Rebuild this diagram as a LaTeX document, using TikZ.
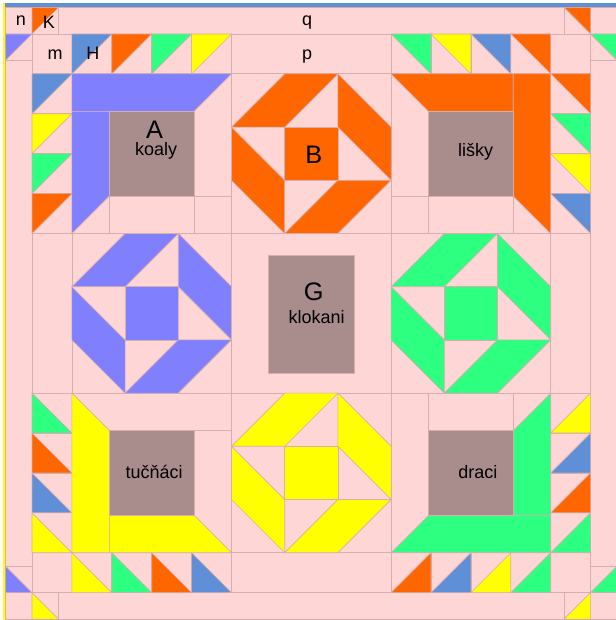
\documentclass[tikz,border=0pt]{standalone}
\usepackage{fontspec}
\setmainfont{Liberation Sans}
\definecolor{pinkC}{HTML}{FFD6D6}
\definecolor{lineC}{HTML}{D6AEAE}
\definecolor{periC}{HTML}{8080FF}
\definecolor{steelC}{HTML}{5F8FD6}
\definecolor{orangeC}{HTML}{FF6600}
\definecolor{greenC}{HTML}{2DFF80}
\definecolor{yellowC}{HTML}{FFFF00}
\definecolor{grayC}{HTML}{A98C8C}
\def\qu{39.9}
\def\qs{159.6}
\def\qa{37.5}
\tikzset{
  gl/.style={draw=lineC, line width=0.6pt},
  pc/.style={fill=#1, draw=lineC, line width=0.5pt},
  big/.style={font=\fontsize{19}{22}\selectfont, anchor=base, inner sep=0pt},
  sm/.style={font=\fontsize{13.5}{16}\selectfont, anchor=base, inner sep=0pt}
}
\newcommand{\octo}[3]{%
  \begin{scope}[shift={(#1,#2)}]
    \filldraw[pc=#3] (53.2,53.2) rectangle (106.4,106.4);
    \filldraw[pc=#3] (0,53.2) -- (53.2,0) -- (106.4,0) -- (53.2,53.2) -- cycle;
    \filldraw[pc=#3] (106.4,0) -- (159.6,53.2) -- (159.6,106.4) -- (106.4,53.2) -- cycle;
    \filldraw[pc=#3] (159.6,106.4) -- (106.4,159.6) -- (53.2,159.6) -- (106.4,106.4) -- cycle;
    \filldraw[pc=#3] (53.2,159.6) -- (0,106.4) -- (0,53.2) -- (53.2,106.4) -- cycle;
  \end{scope}}
\begin{document}
\begin{tikzpicture}[x=0.75pt,y=-0.75pt]
\useasboundingbox (0,0) rectangle (616,620);
\fill[white] (0,0) rectangle (616,620);
\fill[pinkC] (5.3,7.4) rectangle (617.2,620);
% outer border cells
\foreach \x/\w in {5.3/26.7, 32/26.6, 58.6/505.4, 564/26.6, 590.6/26.6} {
  \draw[gl] (\x,7.4) rectangle ++(\w,26.6);
  \draw[gl] (\x,592.6) rectangle ++(\w,26.6);
}
\foreach \y/\h in {34/26.6, 60.6/505.4, 566/26.6} {
  \draw[gl] (5.3,\y) rectangle ++(26.7,\h);
  \draw[gl] (590.6,\y) rectangle ++(26.6,\h);
}
\filldraw[pc=orangeC] (32,7.4) -- ++(26.6,0) -- ++(-26.6,26.6) -- cycle;
\filldraw[pc=orangeC] (564,7.4) -- ++(26.6,0) -- ++(0,26.6) -- cycle;
\filldraw[pc=periC] (5.3,34) -- ++(26.7,0) -- ++(-26.7,26.6) -- cycle;
\filldraw[pc=periC] (5.3,566) -- ++(0,26.6) -- ++(26.7,0) -- cycle;
\filldraw[pc=greenC] (590.6,34) -- ++(26.6,0) -- ++(0,26.6) -- cycle;
\filldraw[pc=greenC] (617.2,566) -- ++(0,26.6) -- ++(-26.6,0) -- cycle;
\filldraw[pc=yellowC] (32,592.6) -- ++(0,26.6) -- ++(26.6,0) -- cycle;
\filldraw[pc=yellowC] (590.6,592.6) -- ++(0,26.6) -- ++(-26.6,0) -- cycle;
% inner grid cells
\foreach \c in {0,1,2,3,4,9,10,11,12,13} {
  \draw[gl] ({32+\c*\qu},34) rectangle ++(\qu,\qu);
  \draw[gl] ({32+\c*\qu},552.7) rectangle ++(\qu,\qu);
}
\foreach \r in {1,2,3,4,9,10,11,12} {
  \draw[gl] (32,{34+\r*\qu}) rectangle ++(\qu,\qu);
  \draw[gl] (550.7,{34+\r*\qu}) rectangle ++(\qu,\qu);
}
\draw[gl] (231.5,34) rectangle ++(\qs,\qu);
\draw[gl] (231.5,552.7) rectangle ++(\qs,\qu);
\draw[gl] (32,233.5) rectangle ++(\qu,\qs);
\draw[gl] (550.7,233.5) rectangle ++(\qu,\qs);
\foreach \c in {71.9,231.5,391.1} \foreach \r in {73.9,233.5,393.1} {
  \draw[gl] (\c,\r) rectangle ++(\qs,\qs);
}
% small triangles
\foreach \c/\r/\col in {1/0/steelC,2/0/orangeC,3/0/greenC,4/0/yellowC,0/1/steelC,0/2/yellowC,0/3/greenC,0/4/orangeC}
  \filldraw[pc=\col] ({32+\c*\qu},{34+\r*\qu}) -- ++(\qu,0) -- ++(-\qu,\qu) -- cycle;
\foreach \c/\r/\col in {9/0/greenC,10/0/yellowC,11/0/steelC,12/0/orangeC,13/1/orangeC,13/2/greenC,13/3/yellowC,13/4/steelC}
  \filldraw[pc=\col] ({32+\c*\qu},{34+\r*\qu}) -- ++(\qu,0) -- ++(0,\qu) -- cycle;
\foreach \c/\r/\col in {0/9/greenC,0/10/orangeC,0/11/steelC,0/12/yellowC,1/13/yellowC,2/13/greenC,3/13/orangeC,4/13/steelC}
  \filldraw[pc=\col] ({32+\c*\qu},{34+\r*\qu}) -- ++(0,\qu) -- ++(\qu,0) -- cycle;
\foreach \c/\r/\col in {9/13/orangeC,10/13/steelC,11/13/yellowC,12/13/greenC,13/9/yellowC,13/10/steelC,13/11/orangeC,13/12/greenC}
  \filldraw[pc=\col] ({32+(\c+1)*\qu},{34+\r*\qu}) -- ++(0,\qu) -- ++(-\qu,0) -- cycle;
% block A (koaly)
\begin{scope}[shift={(71.9,73.9)}]
  \draw[gl] ({\qs-\qa},\qa) -- ({\qs-\qa},\qs);
  \draw[gl] (\qa,{\qs-\qa}) -- (\qs,{\qs-\qa});
  \draw[gl] (\qa,\qa) -- (\qa,\qs);
  \filldraw[pc=periC] (0,0) -- (\qs,0) -- ({\qs-\qa},\qa) -- (0,\qa) -- cycle;
  \filldraw[pc=periC] (0,\qa) -- (\qa,\qa) -- (\qa,{\qs-\qa}) -- (0,\qs) -- cycle;
  \filldraw[pc=grayC] (\qa,\qa) rectangle ({\qs-\qa},{\qs-\qa});
\end{scope}
% block lisky
\begin{scope}[shift={(391.1,73.9)}]
  \draw[gl] (\qa,\qa) -- (\qa,\qs);
  \draw[gl] (0,{\qs-\qa}) -- ({\qs-\qa},{\qs-\qa});
  \draw[gl] ({\qs-\qa},\qa) -- ({\qs-\qa},\qs);
  \filldraw[pc=orangeC] (0,0) -- ({\qs-\qa},0) -- ({\qs-\qa},\qa) -- (\qa,\qa) -- cycle;
  \filldraw[pc=orangeC] ({\qs-\qa},0) -- (\qs,0) -- (\qs,\qs) -- ({\qs-\qa},{\qs-\qa}) -- cycle;
  \filldraw[pc=grayC] (\qa,\qa) rectangle ({\qs-\qa},{\qs-\qa});
\end{scope}
% block tucnaci
\begin{scope}[shift={(71.9,393.1)}]
  \draw[gl] (\qa,\qa) -- (\qs,\qa);
  \draw[gl] ({\qs-\qa},\qa) -- ({\qs-\qa},{\qs-\qa});
  \filldraw[pc=yellowC] (0,0) -- (\qa,\qa) -- (\qa,\qs) -- (0,\qs) -- cycle;
  \filldraw[pc=yellowC] (\qa,{\qs-\qa}) -- ({\qs-\qa},{\qs-\qa}) -- (\qs,\qs) -- (\qa,\qs) -- cycle;
  \filldraw[pc=grayC] (\qa,\qa) rectangle ({\qs-\qa},{\qs-\qa});
\end{scope}
% block draci
\begin{scope}[shift={(391.1,393.1)}]
  \draw[gl] (\qa,0) -- (\qa,{\qs-\qa});
  \draw[gl] (\qa,\qa) -- ({\qs-\qa},\qa);
  \draw[gl] ({\qs-\qa},0) -- ({\qs-\qa},\qa);
  \filldraw[pc=greenC] ({\qs-\qa},\qa) -- (\qs,0) -- (\qs,{\qs-\qa}) -- ({\qs-\qa},{\qs-\qa}) -- cycle;
  \filldraw[pc=greenC] (0,\qs) -- (\qa,{\qs-\qa}) -- (\qs,{\qs-\qa}) -- (\qs,\qs) -- cycle;
  \filldraw[pc=grayC] (\qa,\qa) rectangle ({\qs-\qa},{\qs-\qa});
\end{scope}
% octagon blocks
\octo{231.5}{73.9}{orangeC}
\octo{71.9}{233.5}{periC}
\octo{391.1}{233.5}{greenC}
\octo{231.5}{393.1}{yellowC}
% center block
\filldraw[pc=grayC] (268,255) rectangle (354,373);
% frame lines
\fill[steelC] (5.3,3.3) rectangle (616,7.4);
\fill[yellowC] (2.7,3.3) rectangle (5.3,620);
% labels
\node[big] (lA) at (154.5,138.3) {A};
\node[sm] (lkoaly) at (156.2,156) {koaly};
\node[big] (lB) at (313.8,163.3) {B};
\node[sm] (llisky) at (475.5,156.5) {lišky};
\node[big] (lG) at (313.7,300) {G};
\node[sm] (lklokani) at (316.7,323.3) {klokani};
\node[sm] (ltucnaci) at (154.2,478.3) {tučňáci};
\node[sm] (ldraci) at (477.8,478.3) {draci};
\node[sm] (ln) at (20.8,25.7) {n};
\node[sm] (lK) at (48.8,28.3) {K};
\node[sm] (lq) at (307,25.7) {q};
\node[sm] (lm) at (55.2,60) {m};
\node[sm] (lH) at (92.8,60) {H};
\node[sm] (lp) at (307,60) {p};
\end{tikzpicture}
\end{document}
